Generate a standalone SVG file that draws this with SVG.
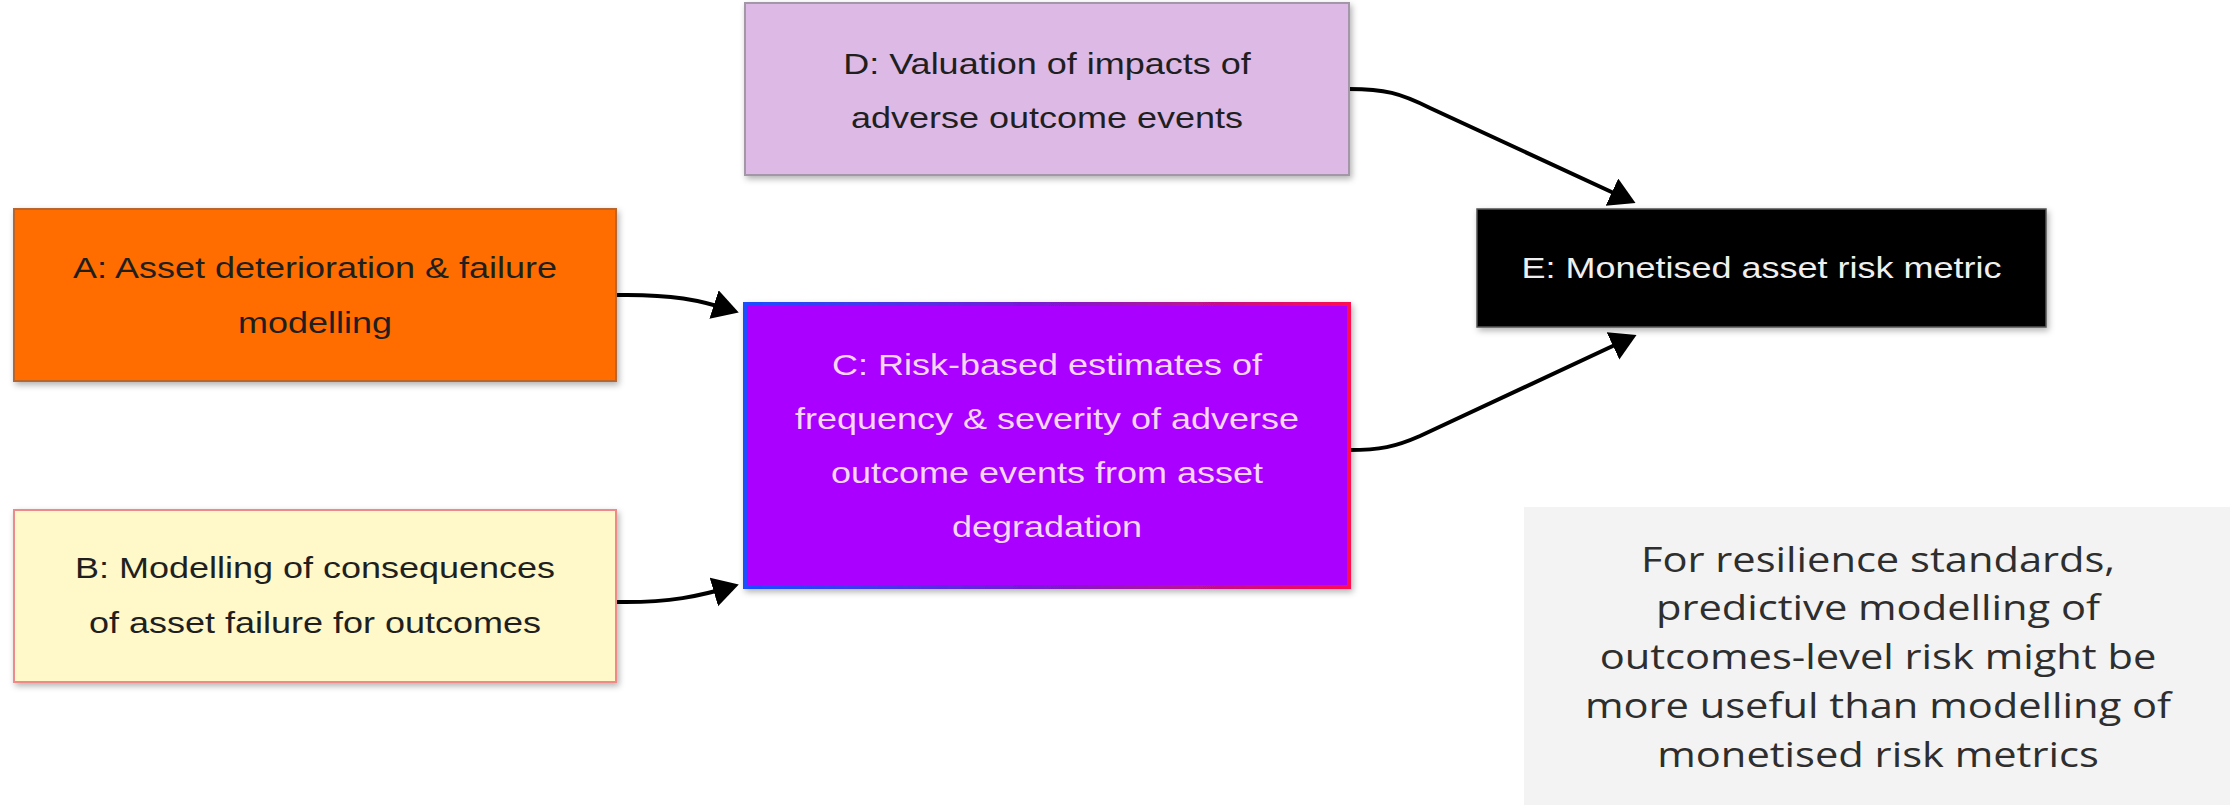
<svg xmlns="http://www.w3.org/2000/svg" width="2240" height="805" viewBox="0 0 2240 805">
  <style>
    .lbl { font-family: "Liberation Sans", Arial, Helvetica, sans-serif; font-size: 30px; text-anchor: middle; }
    .ink { fill: #1f1f1f; }
    .note { font-family: "Open Sans", "Noto Sans", sans-serif; font-size: 35px; fill: #2e2e2e; text-anchor: middle; }
    .edge { fill: none; stroke: #000; stroke-width: 4; marker-end: url(#arrow); }
    .box { filter: url(#shadow); }
  </style>
  <defs>
    <filter id="shadow" x="-10%" y="-10%" width="120%" height="130%">
      <feDropShadow dx="2" dy="3" stdDeviation="3" flood-color="#000" flood-opacity="0.3"/>
    </filter>
    <linearGradient id="cEdge" x1="0" y1="0" x2="1" y2="0">
      <stop offset="0" stop-color="#1a4dff"/>
      <stop offset="0.5" stop-color="#7a1ad0"/>
      <stop offset="1" stop-color="#ff0a50"/>
    </linearGradient>
    <marker id="arrow" markerUnits="userSpaceOnUse" markerWidth="28" markerHeight="32" refX="21" refY="15" orient="auto">
      <path d="M0,0 L26,15 L0,30 Z" fill="#000"/>
    </marker>
  </defs>

  <rect width="2240" height="805" fill="#ffffff"/>

  <!-- connectors -->
  <g id="connectors">
    <path id="a-c" class="edge" d="M616,295 C672,294 700,300 734,311"/>
    <path id="b-c" class="edge" d="M616,602 C670,603 700,596 734,586"/>
    <path id="d-e" class="edge" d="M1349,89 C1385,89 1400,93 1430,108 L1631,201"/>
    <path id="c-e" class="edge" d="M1349,450 C1380,450 1395,447 1420,436 L1632,337"/>
  </g>

  <!-- A -->
  <g id="node-a">
    <rect class="box" x="14" y="209" width="602" height="172" fill="#ff6d01" stroke="#b8662e" stroke-width="2"/>
    <g class="lbl ink" transform="translate(315 0) scale(1.2 1)">
      <text x="0" y="278">A: Asset deterioration &amp; failure</text>
      <text x="0" y="333">modelling</text>
    </g>
  </g>

  <!-- B -->
  <g id="node-b">
    <rect class="box" x="14" y="510" width="602" height="172" fill="#fff8c8" stroke="#ee8a8a" stroke-width="2"/>
    <g class="lbl ink" transform="translate(315 0) scale(1.2 1)">
      <text x="0" y="578">B: Modelling of consequences</text>
      <text x="0" y="633">of asset failure for outcomes</text>
    </g>
  </g>

  <!-- D -->
  <g id="node-d">
    <rect class="box" x="745" y="3" width="604" height="172" fill="#ddb9e5" stroke="#a396a6" stroke-width="2"/>
    <g class="lbl ink" transform="translate(1047 0) scale(1.2 1)">
      <text x="0" y="74">D: Valuation of impacts of</text>
      <text x="0" y="128">adverse outcome events</text>
    </g>
  </g>

  <!-- C -->
  <g id="node-c">
    <rect class="box" x="745" y="304" width="604" height="283" fill="#aa00ff" stroke="url(#cEdge)" stroke-width="4"/>
    <g class="lbl" fill="#f6d6f6" transform="translate(1047 0) scale(1.2 1)">
      <text x="0" y="375">C: Risk-based estimates of</text>
      <text x="0" y="429">frequency &amp; severity of adverse</text>
      <text x="0" y="483">outcome events from asset</text>
      <text x="0" y="537">degradation</text>
    </g>
  </g>

  <!-- E -->
  <g id="node-e">
    <rect class="box" x="1477" y="209" width="569" height="118" fill="#000000" stroke="#555555" stroke-width="1.5"/>
    <g class="lbl" fill="#efefef" transform="translate(1761.5 0) scale(1.2 1)">
      <text x="0" y="278">E: Monetised asset risk metric</text>
    </g>
  </g>

  <!-- side note -->
  <g id="note">
    <rect x="1524" y="507" width="706" height="298" fill="#f3f3f3"/>
    <g class="note" transform="translate(1878 0) scale(1.19 1)">
      <text x="0" y="572">For resilience standards,</text>
      <text x="0" y="620">predictive modelling of</text>
      <text x="0" y="669">outcomes-level risk might be</text>
      <text x="0" y="718">more useful than modelling of</text>
      <text x="0" y="767">monetised risk metrics</text>
    </g>
  </g>
</svg>
